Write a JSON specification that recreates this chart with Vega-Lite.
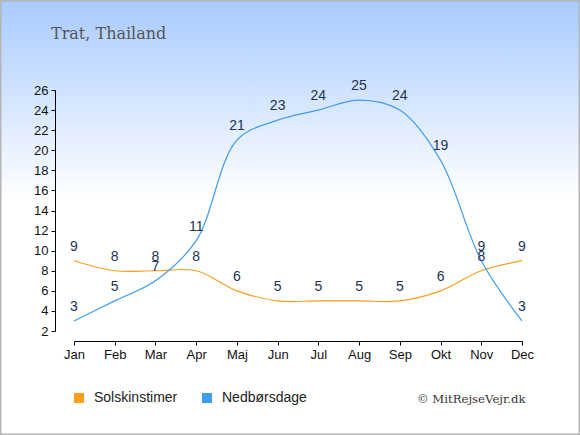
{
  "$schema": "https://vega.github.io/schema/vega-lite/v6.json",
  "width": 580,
  "height": 435,
  "autosize": {"type": "none"},
  "padding": 0,
  "title": {
    "text": "Trat, Thailand",
    "anchor": "start",
    "frame": "group",
    "dx": 51,
    "offset": -55,
    "baseline": "alphabetic",
    "font": "DejaVu Serif",
    "fontSize": 16,
    "fontWeight": "normal",
    "color": "#555555"
  },
  "config": {
    "view": {
      "fill": {
        "gradient": "linear",
        "x1": 0, "y1": 0, "x2": 0, "y2": 1,
        "stops": [
          {"offset": 0, "color": "#a9cbff"},
          {"offset": 0.46, "color": "#ffffff"},
          {"offset": 1, "color": "#ffffff"}
        ]
      },
      "stroke": "#b5b5b5",
      "strokeWidth": 3
    },
    "axis": {
      "grid": false,
      "labelFont": "Liberation Sans",
      "labelFontSize": 13,
      "labelColor": "#111111",
      "domainColor": "#000000",
      "tickColor": "#000000",
      "tickSize": 4
    }
  },
  "data": {
    "values": [
      {"month": "Jan", "series": "Solskinstimer", "value": 9},
      {"month": "Feb", "series": "Solskinstimer", "value": 8},
      {"month": "Mar", "series": "Solskinstimer", "value": 8},
      {"month": "Apr", "series": "Solskinstimer", "value": 8},
      {"month": "Maj", "series": "Solskinstimer", "value": 6},
      {"month": "Jun", "series": "Solskinstimer", "value": 5},
      {"month": "Jul", "series": "Solskinstimer", "value": 5},
      {"month": "Aug", "series": "Solskinstimer", "value": 5},
      {"month": "Sep", "series": "Solskinstimer", "value": 5},
      {"month": "Okt", "series": "Solskinstimer", "value": 6},
      {"month": "Nov", "series": "Solskinstimer", "value": 8},
      {"month": "Dec", "series": "Solskinstimer", "value": 9},
      {"month": "Jan", "series": "Nedbørsdage", "value": 3},
      {"month": "Feb", "series": "Nedbørsdage", "value": 5},
      {"month": "Mar", "series": "Nedbørsdage", "value": 7},
      {"month": "Apr", "series": "Nedbørsdage", "value": 11},
      {"month": "Maj", "series": "Nedbørsdage", "value": 21},
      {"month": "Jun", "series": "Nedbørsdage", "value": 23},
      {"month": "Jul", "series": "Nedbørsdage", "value": 24},
      {"month": "Aug", "series": "Nedbørsdage", "value": 25},
      {"month": "Sep", "series": "Nedbørsdage", "value": 24},
      {"month": "Okt", "series": "Nedbørsdage", "value": 19},
      {"month": "Nov", "series": "Nedbørsdage", "value": 9},
      {"month": "Dec", "series": "Nedbørsdage", "value": 3}
    ]
  },
  "encoding": {
    "x": {
      "field": "month",
      "type": "ordinal",
      "sort": null,
      "scale": {"type": "point", "padding": 0, "range": [74, 522]},
      "axis": {
        "orient": "bottom",
        "offset": -94,
        "labelAngle": 0,
        "labelPadding": 3,
        "title": "© MitRejseVejr.dk",
        "titleFont": "DejaVu Serif",
        "titleFontSize": 11.7,
        "titleFontWeight": "normal",
        "titleColor": "#333333",
        "titleAnchor": "end",
        "titleAlign": "right",
        "titleBaseline": "alphabetic",
        "titleX": 525,
        "titleY": 61
      }
    },
    "y": {
      "field": "value",
      "type": "quantitative",
      "scale": {"domain": [2, 26], "range": [331, 90], "nice": false, "zero": false},
      "axis": {
        "orient": "left",
        "offset": -55,
        "title": null,
        "values": [2, 4, 6, 8, 10, 12, 14, 16, 18, 20, 22, 24, 26],
        "labelPadding": 3
      }
    }
  },
  "layer": [
    {
      "mark": {"type": "line", "interpolate": "catmull-rom", "strokeWidth": 1.2},
      "encoding": {
        "color": {
          "field": "series",
          "type": "nominal",
          "scale": {"domain": ["Solskinstimer", "Nedbørsdage"], "range": ["#fb9f1c", "#3d9cef"]},
          "legend": {
            "title": null,
            "orient": "none",
            "legendX": 72,
            "legendY": 391,
            "direction": "horizontal",
            "symbolType": "square",
            "symbolSize": 100,
            "labelFont": "Liberation Sans",
            "labelFontSize": 14,
            "labelColor": "#222222",
            "labelOffset": 8,
            "columnPadding": 22,
            "encode": {
              "symbols": {
                "update": {
                  "fill": {"scale": "color", "field": "value"},
                  "strokeWidth": {"value": 0}
                }
              }
            }
          }
        }
      }
    },
    {
      "mark": {"type": "text", "dy": -14, "baseline": "middle", "font": "Liberation Sans", "fontSize": 14, "color": "#223355"},
      "encoding": {
        "text": {"field": "value", "type": "quantitative"}
      }
    }
  ]
}
